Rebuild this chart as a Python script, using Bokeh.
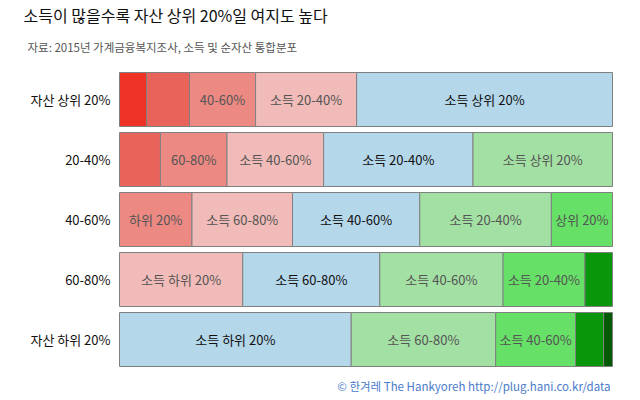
from bokeh.plotting import figure
from bokeh.models import ColumnDataSource, Label, Range1d
from bokeh.core.properties import value
from bokeh.embed import file_html
from bokeh.resources import INLINE

# ---- data ----
asset_rows = ["자산 상위 20%", "20-40%", "40-60%", "60-80%", "자산 하위 20%"]
asset_rank = [4, 3, 2, 1, 0]
income_classes = ["하위 20%", "60-80%", "40-60%", "20-40%", "상위 20%"]
income_rank = [0, 1, 2, 3, 4]
# share (%) of each income class within each asset row
share_low20 = [5.5, 8.3, 14.7, 25.0, 47.0]
share_60_80 = [8.7, 13.5, 20.4, 27.8, 29.3]
share_40_60 = [13.4, 19.6, 25.8, 25.0, 16.2]
share_20_40 = [20.5, 30.3, 26.7, 16.6, 5.7]
share_top20 = [51.9, 28.3, 12.4, 5.6, 1.8]
shares = [share_low20, share_60_80, share_40_60, share_20_40, share_top20]

title_text = "소득이 많을수록 자산 상위 20%일 여지도 높다"
subtitle_text = "자료: 2015년 가계금융복지조사, 소득 및 순자산 통합분포"
credit_text = "© 한겨레 The Hankyoreh http://plug.hani.co.kr/data"

# ---- styles / layout ----
FONT = "Noto Sans CJK KR"
palette = {-4: "#EE3226", -3: "#E8635A", -2: "#EC8983", -1: "#F0BBB8",
           0: "#B4D7EA", 1: "#A3E0A3", 2: "#66E066", 3: "#0A960A", 4: "#055A05"}
W, H = 640, 400
FRAME_L, FRAME_R = 119, 612      # pixel span of 0..100 %
ROW_TOP, ROW_PITCH = 99, 60      # pixel centre of first row, row pitch
px = (FRAME_R - FRAME_L) / 100.0

rows_y, lefts, rights, mids, colors, labels, tcolors = [], [], [], [], [], [], []
for r, row in enumerate(asset_rows):
    acc = 0.0
    for c, cls in enumerate(income_classes):
        v = shares[c][r]
        rows_y.append(r)
        lefts.append(acc)
        rights.append(acc + v)
        mids.append(acc + v / 2)
        d = income_rank[c] - asset_rank[r]
        colors.append(palette[d])
        if v >= 15.5:
            labels.append("소득 " + cls)
        elif v >= 12:
            labels.append(cls)
        else:
            labels.append("")
        tcolors.append("#111111" if d == 0 else "#555555")
        acc += v

src = ColumnDataSource(dict(y=rows_y, left=lefts, right=rights, mid=mids,
                            color=colors, label=labels, tcolor=tcolors))
cat_src = ColumnDataSource(dict(y=list(range(len(asset_rows))), name=asset_rows,
                                x=[-9 / px] * len(asset_rows)))

p = figure(width=W, height=H, output_backend="svg", toolbar_location=None,
           x_range=Range1d(-FRAME_L / px, 100 + (W - FRAME_R) / px),
           y_range=Range1d((H - ROW_TOP) / ROW_PITCH, -ROW_TOP / ROW_PITCH),
           x_axis_location=None, y_axis_location=None, min_border=0)
p.outline_line_color = None
p.grid.visible = False
p.background_fill_color = "white"
p.border_fill_color = "white"

p.hbar(y="y", left="left", right="right", height=0.9, source=src,
       fill_color="color", line_color="#808080", line_width=1)
p.text(x="mid", y="y", text="label", source=src, text_align="center",
       text_baseline="middle", text_font=value(FONT), text_font_size="13px",
       text_color="tcolor")
p.text(x="x", y="y", text="name", source=cat_src, text_align="right",
       text_baseline="middle", text_font=value(FONT), text_font_size="13px",
       text_color="#111111")

p.add_layout(Label(x=23, y=H - 14.5, x_units="screen", y_units="screen",
                   text=title_text, text_font=FONT, text_font_size="16px",
                   text_color="#111111", text_baseline="middle"))
p.add_layout(Label(x=27, y=H - 46.5, x_units="screen", y_units="screen",
                   text=subtitle_text, text_font=FONT, text_font_size="11.5px",
                   text_color="#555555", text_baseline="middle"))
p.add_layout(Label(x=610, y=H - 385.5, x_units="screen", y_units="screen",
                   text=credit_text, text_font=FONT, text_font_size="11.5px",
                   text_color="#4A7BCB", text_baseline="middle", text_align="right"))

open("out.html", "w").write(file_html(p, INLINE))
